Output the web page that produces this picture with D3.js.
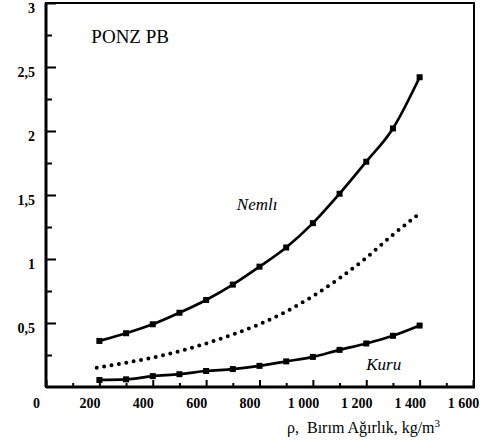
<!DOCTYPE html>
<html>
<head>
<meta charset="utf-8">
<script src="https://cdn.jsdelivr.net/npm/d3@7"></script>
<style>
  body { margin: 0; background: #fff; }
  svg { display: block; }
  text { font-family: "Liberation Serif", "DejaVu Serif", serif; fill: #000; }
  .tick text { font-size: 14px; font-weight: bold; }
</style>
</head>
<body>
<svg width="492" height="448"></svg>
<script>
const densities = [200, 300, 400, 500, 600, 700, 800, 900, 1000, 1100, 1200, 1300, 1400];
const nemli = [0.36, 0.42, 0.49, 0.58, 0.68, 0.80, 0.94, 1.09, 1.28, 1.51, 1.76, 2.02, 2.42];
const kuru = [0.055, 0.06, 0.085, 0.10, 0.125, 0.14, 0.165, 0.20, 0.235, 0.29, 0.34, 0.40, 0.48];
const dottedX = [190, 300, 400, 500, 600, 700, 800, 900, 1000, 1100, 1200, 1300, 1390];
const dottedY = [0.15, 0.19, 0.23, 0.28, 0.34, 0.41, 0.49, 0.59, 0.71, 0.85, 1.01, 1.19, 1.34];
const xTicks = [0, 200, 400, 600, 800, 1000, 1200, 1400, 1600];
const xTickLabels = ["0", "200", "400", "600", "800", "1 000", "1 200", "1 400", "1 600"];
const yTicks = [0.5, 1, 1.5, 2, 2.5, 3];
const yTickLabels = ["0,5", "1", "1,5", "2", "2,5", "3"];

const x = d3.scaleLinear().domain([0, 1600]).range([46, 473]);
const y = d3.scaleLinear().domain([0, 3]).range([387, 3]);

const svg = d3.select("svg");

// frame
svg.append("rect")
    .attr("x", x(0)).attr("y", y(3))
    .attr("width", 474 - x(0)).attr("height", y(0) - y(3))
    .attr("fill", "none").attr("stroke", "#000").attr("stroke-width", 2);

// minor ticks
svg.append("g")
    .attr("transform", `translate(${x(0)},0)`)
    .call(d3.axisLeft(y).tickValues(d3.range(0.25, 3, 0.5)).tickSize(-6).tickFormat(""))
    .call(g => g.select(".domain").remove())
    .selectAll("line").attr("stroke-width", 2);

svg.append("g")
    .attr("transform", `translate(0,${y(0)})`)
    .call(d3.axisBottom(x).tickValues(d3.range(100, 1600, 200)).tickSize(-4).tickFormat(""))
    .call(g => g.select(".domain").remove())
    .selectAll("line").attr("stroke-width", 2);

// major axes
const yAxis = svg.append("g")
    .attr("transform", `translate(${x(0)},0)`)
    .call(d3.axisLeft(y).tickValues(yTicks).tickSize(-10).tickPadding(11)
        .tickFormat((d, i) => yTickLabels[i]))
    .attr("font-family", null);
yAxis.select(".domain").remove();
yAxis.selectAll("line").attr("stroke-width", 2);
yAxis.selectAll("text").attr("dy", "0.71em");

const xAxis = svg.append("g")
    .attr("transform", `translate(0,${y(0)})`)
    .call(d3.axisBottom(x).tickValues(xTicks).tickSize(-7).tickPadding(11)
        .tickFormat((d, i) => xTickLabels[i]))
    .attr("font-family", null);
xAxis.select(".domain").remove();
xAxis.selectAll("line").attr("stroke-width", 2);
xAxis.selectAll("text").attr("dx", -10);

// thick left and bottom axis lines
svg.append("line")
    .attr("x1", x(0)).attr("x2", x(0)).attr("y1", y(3)).attr("y2", y(0))
    .attr("stroke", "#000").attr("stroke-width", 3);
svg.append("line")
    .attr("x1", x(0)).attr("x2", 475).attr("y1", y(0)).attr("y2", y(0))
    .attr("stroke", "#000").attr("stroke-width", 3);

const line = d3.line()
    .curve(d3.curveMonotoneX)
    .x(d => x(d[0]))
    .y(d => y(d[1]));

[nemli, kuru].forEach(series => {
  const pts = densities.map((d, i) => [d, series[i]]);
  svg.append("path")
      .datum(pts)
      .attr("d", line)
      .attr("fill", "none")
      .attr("stroke", "#000")
      .attr("stroke-width", 2.7);
  svg.selectAll(null)
      .data(pts)
      .enter()
      .append("rect")
      .attr("x", d => x(d[0]) - 3)
      .attr("y", d => y(d[1]) - 3)
      .attr("width", 6)
      .attr("height", 6)
      .attr("fill", "#000");
});

svg.append("path")
    .datum(dottedX.map((d, i) => [d, dottedY[i]]))
    .attr("d", line)
    .attr("fill", "none")
    .attr("stroke", "#000")
    .attr("stroke-width", 4)
    .attr("stroke-linecap", "round")
    .attr("stroke-dasharray", "0,7.5");

// labels
svg.append("text")
    .attr("x", x(170)).attr("y", y(2.6875))
    .attr("font-size", 19)
    .text("PONZ PB");

svg.append("text")
    .attr("x", x(715)).attr("y", y(1.383))
    .attr("font-size", 17).attr("font-style", "italic")
    .text("Nemlı");

svg.append("text")
    .attr("x", x(1200)).attr("y", y(0.133))
    .attr("font-size", 17).attr("font-style", "italic")
    .text("Kuru");

const title = svg.append("text")
    .attr("x", 287).attr("y", 433)
    .attr("font-size", 16);
title.append("tspan").text("ρ,\u00A0\u00A0Bırım Ağırlık, kg/m");
title.append("tspan").attr("font-size", 11).attr("dy", -6).text("3");
</script>
</body>
</html>
